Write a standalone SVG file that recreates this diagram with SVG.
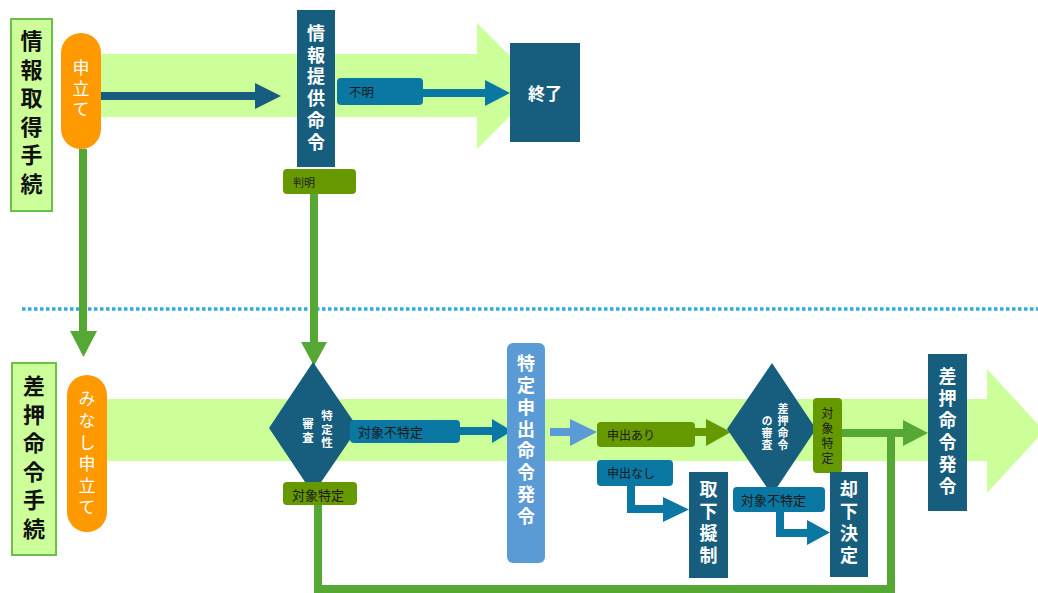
<svg xmlns="http://www.w3.org/2000/svg" width="1038" height="593" viewBox="0 0 1038 593">
<style>
text{font-family:"Noto Sans CJK JP","Noto Sans",sans-serif;}
.v{writing-mode:vertical-rl;text-anchor:start;dominant-baseline:central;}
.band{fill:#ccff99;}
.title{fill:#ccff99;stroke:#6cc04a;stroke-width:2;}
.titletxt{font-size:22px;font-weight:bold;fill:#111;letter-spacing:6.5px;}
.pill{fill:#ff9900;}
.pilltxt{font-size:17px;fill:#fff;}
.box{fill:#175e7e;}
.lbox{fill:#5b9bd5;}
.boxtxt{font-size:18px;font-weight:bold;fill:#fff;letter-spacing:3.8px;}
.htxt{font-size:17px;font-weight:bold;fill:#fff;text-anchor:middle;dominant-baseline:central;}
.dtxt{font-size:11.5px;font-weight:bold;fill:#fff;}
.olive{fill:#669900;}
.teal{fill:#0b77a3;}
.ltxt{font-size:12.5px;fill:#1a1a1a;dominant-baseline:central;}
.g{stroke:#55a833;stroke-width:8;fill:none;}
.gh{fill:#55a833;}
.b{stroke:#175e7e;stroke-width:8;fill:none;}
.bh{fill:#175e7e;}
.t{stroke:#0b77a3;stroke-width:8;fill:none;}
.th{fill:#0b77a3;}
.lb{stroke:#5b9bd5;stroke-width:8;fill:none;}
.lbh{fill:#5b9bd5;}
.o{stroke:#669900;stroke-width:8;fill:none;}
.oh{fill:#669900;}
</style>

<g id="background">
  <polygon class="band" points="101,54 477,54 477,23 540,86 477,149 477,117 101,117"/>
  <polygon class="band" points="107,399 987,399 987,369 1044,431 987,493 987,461 107,461"/>
  <line x1="22" y1="309" x2="1038" y2="309" stroke="#33aadd" stroke-width="3.5" stroke-dasharray="3.5 2.5"/>
</g>

<g id="connectors">
  <line class="b" x1="101" y1="96" x2="257" y2="96"/>
  <polygon class="bh" points="255,83 281,96 255,109"/>

  <line class="t" x1="420" y1="93" x2="487" y2="93"/>
  <polygon class="th" points="485,80 510,93 485,106"/>

  <line class="g" x1="83" y1="149" x2="83" y2="333"/>
  <polygon class="gh" points="70,331 97,331 83.5,357"/>

  <line class="g" x1="314" y1="194" x2="314" y2="344"/>
  <polygon class="gh" points="301,342 327,342 314,366"/>

  <line class="t" x1="458" y1="431" x2="494" y2="431"/>
  <polygon class="th" points="492,419 512,431 492,443"/>

  <line class="lb" x1="550" y1="432" x2="572" y2="432"/>
  <polygon class="lbh" points="570,419 597,432 570,446"/>

  <line class="o" x1="693" y1="432" x2="708" y2="432"/>
  <polygon class="oh" points="706,419 731,432 706,446"/>

  <polyline class="t" points="631,484 631,509 665,509"/>
  <polygon class="th" points="663,497 689,509.5 663,522"/>

  <polyline class="t" points="780,510 780,533 809,533"/>
  <polygon class="th" points="807,520 830,532.5 807,545"/>

  <polyline class="g" points="318,503 318,589 891,589 891,433"/>
  <line class="g" x1="840" y1="433" x2="905" y2="433"/>
  <polygon class="gh" points="903,420 928,433 903,446"/>
</g>

<g id="title-info">
  <rect class="title" x="11" y="19" width="41" height="192"/>
  <text class="titletxt v" x="31.5" y="30">情報取得手続</text>
</g>

<g id="title-seizure">
  <rect class="title" x="12" y="363" width="44" height="192"/>
  <text class="titletxt v" x="34" y="375">差押命令手続</text>
</g>

<g id="node-moushitate">
  <rect class="pill" x="61" y="33" width="40" height="116" rx="20"/>
  <text class="pilltxt v" x="81" y="59.5" style="letter-spacing:3.5px">申立て</text>
</g>

<g id="node-minashi">
  <rect class="pill" x="67" y="375" width="40" height="157" rx="20"/>
  <text class="pilltxt v" x="87" y="390.5" style="letter-spacing:4.6px">みなし申立て</text>
</g>

<g id="node-joho-teikyo">
  <rect class="box" x="297" y="10" width="38" height="157"/>
  <text class="boxtxt v" x="316" y="24">情報提供命令</text>
</g>

<g id="label-hanmei">
  <rect class="olive" x="283" y="169" width="73" height="25" rx="4"/>
  <text class="ltxt" x="293" y="182" style="font-size:11px">判明</text>
</g>

<g id="label-fumei">
  <rect class="teal" x="337" y="78" width="86" height="27" rx="4"/>
  <text class="ltxt" x="349" y="91">不明</text>
</g>

<g id="node-shuryo">
  <rect class="box" x="510" y="43" width="70" height="99"/>
  <text class="htxt" x="545" y="92">終了</text>
</g>

<g id="node-tokutei-shinsa">
  <polygon class="box" points="313,362 358,428 313,494 269,428"/>
  <text class="dtxt v" x="327" y="410" style="letter-spacing:2px">特定性</text>
  <text class="dtxt v" x="308" y="418" style="letter-spacing:2px">審査</text>
</g>

<g id="label-futokutei1">
  <rect class="teal" x="350" y="420" width="110" height="23" rx="4"/>
  <text class="ltxt" x="358" y="431.5" style="font-size:13px">対象不特定</text>
</g>

<g id="label-tokutei1">
  <rect class="olive" x="283" y="482" width="74" height="23" rx="4"/>
  <text class="ltxt" x="292" y="494" style="font-size:13px">対象特定</text>
</g>

<g id="node-tokutei-moshide">
  <rect class="lbox" x="507" y="343" width="38" height="220" rx="6"/>
  <text class="boxtxt v" x="526" y="354" style="letter-spacing:3.9px">特定申出命令発令</text>
</g>

<g id="label-moshide-ari">
  <rect class="olive" x="597" y="422" width="98" height="25" rx="4"/>
  <text class="ltxt" x="607" y="434.5" style="font-size:12px">申出あり</text>
</g>

<g id="label-moshide-nashi">
  <rect class="teal" x="597" y="460" width="76" height="26" rx="4"/>
  <text class="ltxt" x="607" y="472.5" style="font-size:12px">申出なし</text>
</g>

<g id="node-torisage">
  <rect class="box" x="689" y="472" width="39" height="106"/>
  <text class="boxtxt v" x="708.5" y="480" style="letter-spacing:4px">取下擬制</text>
</g>

<g id="node-sashiosae-shinsa">
  <polygon class="box" points="772,363 816,429 772,495 727,429"/>
  <text class="dtxt v" x="783" y="403.5" style="font-size:11px;letter-spacing:1px">差押命令</text>
  <text class="dtxt v" x="767" y="415.5" style="font-size:11px;letter-spacing:1px">の審査</text>
</g>

<g id="label-futokutei2">
  <rect class="teal" x="733" y="487" width="92" height="25" rx="4"/>
  <text class="ltxt" x="741" y="499.5" style="font-size:13px">対象不特定</text>
</g>

<g id="label-tokutei2">
  <rect class="olive" x="813" y="398" width="29" height="75" rx="4"/>
  <text class="ltxt v" x="827.5" y="407" style="font-size:12px;letter-spacing:3.3px">対象特定</text>
</g>

<g id="node-kyakka">
  <rect class="box" x="830" y="472" width="38" height="105"/>
  <text class="boxtxt v" x="849" y="480" style="letter-spacing:4px">却下決定</text>
</g>

<g id="node-sashiosae-hatsurei">
  <rect class="box" x="928" y="354" width="39" height="157"/>
  <text class="boxtxt v" x="947.5" y="367" style="letter-spacing:4px">差押命令発令</text>
</g>
</svg>
